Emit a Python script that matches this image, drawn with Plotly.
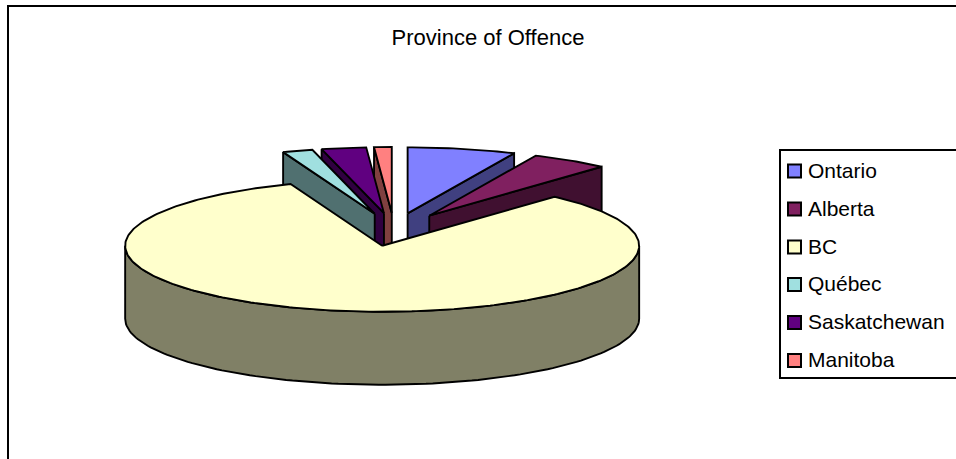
import numpy as np
import plotly.graph_objects as go

categories = ["Ontario", "Alberta", "BC", "Québec", "Saskatchewan", "Manitoba"]
values = [6.8, 4.9, 82.5, 1.9, 2.8, 1.1]
top_colors = ["#8080FF", "#802060", "#FFFFCC", "#A0E0E0", "#600080", "#FF8080"]
side_colors = ["#404080", "#401030", "#808066", "#507070", "#300040", "#804040"]
title_text = "Province of Offence"

W, H = 956, 459
CX, CY = 394.0, 229.5
RX, RY = 257.0, 66.0
DEPTH = 73.0
EXPLODE = 0.25
LW = 1.9
FONT = "Liberation Sans, Arial, sans-serif"

fig = go.Figure()


def add_poly(xs, ys, color):
    fig.add_trace(go.Scatter(x=xs, y=ys, mode="lines", fill="toself", fillcolor=color,
                             line=dict(color="black", width=LW), hoverinfo="skip",
                             showlegend=False))


total = sum(values)
edges = np.concatenate([[0.0], np.cumsum(values)]) / total * 2 * np.pi
mids = (edges[:-1] + edges[1:]) / 2
k = int(np.argmax(values))
# paint from the back of the pie to the front
order = sorted(range(len(values)), key=lambda j: -np.cos(mids[j]))

for i in order:
    a0, a1 = edges[i], edges[i + 1]
    mid = mids[i]
    ax = CX + EXPLODE * RX * np.sin(mid)
    ay = CY - EXPLODE * RY * np.cos(mid)
    px = lambda a: ax + RX * np.sin(a)
    py = lambda a: ay - RY * np.cos(a)

    # outer rim wall: only the part of the arc that faces the viewer
    lo, hi = max(a0, np.pi / 2), min(a1, 3 * np.pi / 2)
    if hi > lo:
        arc = np.linspace(lo, hi, 120)
        xs = np.concatenate([px(arc), px(arc[::-1]), [px(arc[0])]])
        ys = np.concatenate([py(arc), py(arc[::-1]) + DEPTH, [py(arc[0])]])
        add_poly(xs, ys, side_colors[i])

    # radial wall that faces the viewer on an exploded wedge
    if i != k:
        edge = a0 if np.sin(mid) < 0 else a1
        add_poly([ax, px(edge), px(edge), ax, ax],
                 [ay, py(edge), py(edge) + DEPTH, ay + DEPTH, ay], side_colors[i])

    # top face
    arc = np.linspace(a0, a1, max(int((a1 - a0) * 60), 8))
    add_poly(np.concatenate([[ax], px(arc), [ax]]),
             np.concatenate([[ay], py(arc), [ay]]), top_colors[i])

shapes = [
    dict(type="rect", x0=8, y0=6, x1=W + 60, y1=H + 60, line=dict(color="black", width=2), layer="below"),
    dict(type="rect", x0=780, y0=150, x1=W + 60, y1=378, line=dict(color="black", width=2),
         fillcolor="white", layer="below"),
]
annotations = []
for i, name in enumerate(categories):
    yc = 171 + 38 * i - (i > 2) * 0.5
    shapes.append(dict(type="rect", x0=788, x1=801, y0=yc - 6.5, y1=yc + 6.5,
                       fillcolor=top_colors[i], line=dict(color="black", width=2)))
    annotations.append(dict(x=806, y=yc - 1, xref="x", yref="y", text=name, showarrow=False,
                            xanchor="left", yanchor="middle",
                            font=dict(family=FONT, size=21, color="black")))

fig.update_layout(
    width=W, height=H, autosize=False,
    margin=dict(l=0, r=0, t=0, b=0),
    paper_bgcolor="white", plot_bgcolor="white",
    title=dict(text=title_text, x=488 / W, y=1 - 37 / H, xanchor="center", yanchor="middle",
               font=dict(family=FONT, size=22, color="black")),
    xaxis=dict(range=[0, W], visible=False, fixedrange=True),
    yaxis=dict(range=[H, 0], visible=False, fixedrange=True),
    shapes=shapes, annotations=annotations, showlegend=False, hovermode=False,
)

fig.write_html("out.html", config=dict(displayModeBar=False),
               post_script="document.body.style.margin='0';document.body.style.overflow='hidden';")
